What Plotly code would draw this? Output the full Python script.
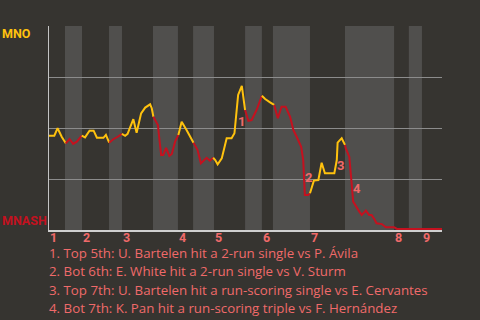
import plotly.graph_objects as go

# ---- data (event index, MNO win probability) ----
ev_x = [0, 1.3, 2.1, 3.1, 4.1,
        5.0, 5.9, 6.8, 8.0,
        8.8, 9.9, 10.9, 11.7, 13.3, 13.9, 14.7,
        15.7, 16.8, 17.8,
        18.6, 19.2, 20.6, 21.4, 22.5, 23.5, 24.7, 25.1, 25.5,
        26.6, 26.9, 27.4, 27.9, 28.6, 29.4, 30.0, 30.8, 31.6,
        32.4, 33.6, 35.3,
        36.3, 37.1, 38.5, 39.3, 40.1,
        40.6, 41.2, 42.2, 43.4, 44.6, 45.3, 45.9, 46.2, 47.1, 47.9,
        48.7, 49.5, 50.7, 52.0,
        52.8, 54.0, 55.0,
        55.9, 56.8, 57.8, 58.9, 59.7, 60.5, 61.6, 62.1, 62.4, 62.5, 63.3, 63.75,
        64.7, 65.8, 66.6, 67.4, 69.7, 70.3, 70.5, 71.5, 72.3,
        72.5, 73.35, 73.7, 74.1, 74.3, 75.0, 75.8, 76.4, 77.4, 78.2, 78.8, 79.6, 80.0, 81.3, 82.3, 84.3,
        85.0, 87.9,
        91.1,
        96.0]
wp = [0.462, 0.462, 0.499, 0.457, 0.425,
      0.446, 0.422, 0.433, 0.463,
      0.454, 0.487, 0.487, 0.452, 0.452, 0.466, 0.428,
      0.445, 0.457, 0.471,
      0.462, 0.471, 0.543, 0.477, 0.572, 0.600, 0.616, 0.597, 0.555,
      0.515, 0.457, 0.368, 0.368, 0.403, 0.363, 0.373, 0.433, 0.466,
      0.531, 0.490, 0.428,
      0.392, 0.327, 0.354, 0.340, 0.354,
      0.343, 0.322, 0.351, 0.450, 0.450, 0.474, 0.604, 0.662, 0.707, 0.588,
      0.535, 0.539, 0.588, 0.658,
      0.642, 0.626, 0.613,
      0.548, 0.604, 0.604, 0.555, 0.490, 0.457, 0.408, 0.343, 0.245, 0.172, 0.172, 0.180,
      0.242, 0.245, 0.330, 0.278, 0.278, 0.343, 0.428, 0.450, 0.417,
      0.400, 0.359, 0.294, 0.188, 0.139, 0.114, 0.090, 0.074, 0.095, 0.074, 0.074, 0.049, 0.033, 0.029, 0.013, 0.013,
      0.005, 0.005,
      0.005,
      0.005]
# index of the last event of each half inning (segment boundaries)
half_end_idx = [4, 8, 15, 18, 27, 36, 39, 44, 54, 58, 61, 73, 82, 102, 104, 105, 106]

# bottom-half shaded bands (event units)
band_start = [3.9, 14.66, 25.4, 35.2, 47.9, 54.7, 72.3, 87.9]
band_end = [8.06, 17.83, 31.5, 40.3, 52.0, 63.75, 84.3, 91.1]

innings = ["1", "2", "3", "4", "5", "6", "7", "8", "9"]
inning_start = [0, 8.06, 17.83, 31.5, 40.3, 52.0, 63.75, 84.3, 91.1]

marker_labels = ["1", "2", "3", "4"]
marker_x = [46.9, 63.5, 71.3, 75.3]
marker_y = [0.531, 0.256, 0.318, 0.204]

notes = [
    "1. Top 5th: U. Bartelen hit a 2-run single vs P. Ávila",
    "2. Bot 6th: E. White hit a 2-run single vs V. Sturm",
    "3. Top 7th: U. Bartelen hit a run-scoring single vs E. Cervantes",
    "4. Bot 7th: K. Pan hit a run-scoring triple vs F. Hernández",
]

BG = "#363430"
BAND = "#504f4d"
GOLD = "#ffc20e"
RED = "#c4111f"
SALMON = "#f06a6a"
FONT = "Roboto, sans-serif"
NOTE_FONT = "Open Sans, sans-serif"

fig = go.Figure()

start = 0
for i, end in enumerate(half_end_idx):
    color = GOLD if i % 2 == 0 else RED
    fig.add_trace(go.Scatter(
        x=ev_x[start:end + 1], y=wp[start:end + 1], mode="lines",
        line=dict(color=color, width=2), hoverinfo="skip", showlegend=False))
    start = end

for b0, b1 in zip(band_start, band_end):
    fig.add_shape(type="rect", xref="x", yref="paper", x0=b0, x1=b1, y0=0, y1=1,
                  fillcolor=BAND, line_width=0, layer="below")

for lab, xs in zip(innings, inning_start):
    fig.add_annotation(x=xs, y=0, xref="x", yref="paper", text="<b>%s</b>" % lab,
                       showarrow=False, xanchor="left", yanchor="middle", yshift=-7, xshift=0,
                       borderpad=0, font=dict(family=FONT, size=12.5, color=SALMON))

for lab, mx, my in zip(marker_labels, marker_x, marker_y):
    fig.add_annotation(x=mx, y=my, xref="x", yref="y", text="<b>%s</b>" % lab,
                       showarrow=False, font=dict(family=FONT, size=13, color=SALMON))

for k, t in enumerate(notes):
    fig.add_annotation(x=0, y=0, xref="paper", yref="paper", text=t, showarrow=False,
                       xanchor="left", yanchor="middle", xshift=-1, yshift=-23 - 18.3 * k,
                       borderpad=0, font=dict(family=NOTE_FONT, size=13.3, color=SALMON))

fig.add_annotation(x=0, y=1, xref="paper", yref="paper", text="<b>MNO</b>", showarrow=False,
                   xanchor="left", yanchor="middle", xshift=-49, yshift=-7,
                   font=dict(family=FONT, size=12.5, color=GOLD))
fig.add_annotation(x=0, y=0, xref="paper", yref="paper", text="<b>MNASH</b>", showarrow=False,
                   xanchor="left", yanchor="middle", xshift=-49, yshift=10,
                   font=dict(family=FONT, size=12.5, color=RED))

fig.update_layout(
    width=480, height=320,
    margin=dict(l=49, r=38, t=26, b=90),
    paper_bgcolor=BG, plot_bgcolor=BG,
    xaxis=dict(range=[0, 96], showgrid=False, zeroline=False, showticklabels=False,
               showline=True, linecolor="#cfcfcf", linewidth=2, ticks=""),
    yaxis=dict(range=[0, 1], dtick=0.25, showgrid=True, gridcolor="#8c8c8c", gridwidth=1,
               zeroline=False, showticklabels=False, showline=True, linecolor="#c4c4c4",
               linewidth=1, ticks=""),
)

fig.write_html("out.html")
